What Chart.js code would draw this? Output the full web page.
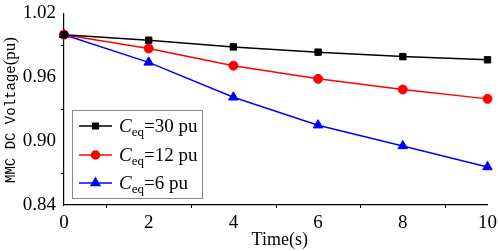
<!DOCTYPE html>
<html>
<head>
<meta charset="utf-8">
<script src="https://cdn.jsdelivr.net/npm/chart.js@4/dist/chart.umd.min.js"></script>
<style>
  html, body { margin: 0; padding: 0; background: #fff; }
  #wrap { width: 498px; height: 251px; }
</style>
</head>
<body>
<div id="wrap"><canvas id="c" width="498" height="251"></canvas></div>
<script>
// data
const times = [0, 2, 4, 6, 8, 10];
const ceq30 = [1.000, 0.9948, 0.9885, 0.9836, 0.9794, 0.9764];
const ceq12 = [1.000, 0.9870, 0.9709, 0.9585, 0.9485, 0.9397];
const ceq6  = [1.000, 0.9740, 0.9412, 0.9150, 0.8955, 0.8757];
const seriesNames = ['30 pu', '12 pu', '6 pu'];
const xMinorTicks = [1, 3, 5, 7, 9];
const yMinorTicks = [0.87, 0.93, 0.99];

const serif = '"Liberation Serif", "Times New Roman", serif';

const toPts = (vals) => vals.map((v, i) => ({ x: times[i], y: v }));

// minor ticks, axis titles and the legend box
const extras = {
  id: 'extras',
  afterDraw(chart) {
    const ctx = chart.ctx;
    const xs = chart.scales.x, ys = chart.scales.y;
    const area = chart.chartArea;
    ctx.save();
    ctx.strokeStyle = '#000';
    ctx.lineWidth = 1;
    xMinorTicks.forEach(v => {
      const px = Math.round(xs.getPixelForValue(v)) + 0.5;
      ctx.beginPath();
      ctx.moveTo(px, area.bottom);
      ctx.lineTo(px, area.bottom + 3);
      ctx.stroke();
    });
    yMinorTicks.forEach(v => {
      const py = Math.round(ys.getPixelForValue(v)) + 0.5;
      ctx.beginPath();
      ctx.moveTo(area.left, py);
      ctx.lineTo(area.left - 3, py);
      ctx.stroke();
    });

    // x title
    ctx.fillStyle = '#000';
    ctx.font = '18px ' + serif;
    ctx.textAlign = 'center';
    ctx.textBaseline = 'alphabetic';
    ctx.fillText('Time(s)', (area.left + area.right) / 2 + 4, 245);

    // y title, two fonts
    ctx.save();
    ctx.translate(15, 110);
    ctx.rotate(-Math.PI / 2);
    const p1 = 'MMC DC Voltage';
    const p2 = '(pu)';
    ctx.font = '14px "Liberation Mono", monospace';
    const w1 = ctx.measureText(p1).width;
    ctx.font = '17px ' + serif;
    const w2 = ctx.measureText(p2).width;
    let x0 = -(w1 + w2) / 2;
    ctx.textAlign = 'left';
    ctx.font = '14px "Liberation Mono", monospace';
    ctx.fillText(p1, x0, 0);
    ctx.font = '17px ' + serif;
    ctx.fillText(p2, x0 + w1, 0);
    ctx.restore();

    // legend
    const bx = 72.5, by = 110.5, bw = 130, bh = 88;
    ctx.fillStyle = '#fff';
    ctx.fillRect(bx, by, bw, bh);
    ctx.strokeStyle = '#888';
    ctx.strokeRect(bx, by, bw, bh);
    const rowsY = [126, 155, 183];
    chart.data.datasets.forEach((ds, i) => {
      const y = rowsY[i];
      ctx.strokeStyle = ds.borderColor;
      ctx.lineWidth = 1.5;
      ctx.beginPath();
      ctx.moveTo(79, y);
      ctx.lineTo(112, y);
      ctx.stroke();
      Chart.helpers.drawPoint(ctx, {
        pointStyle: ds.pointStyle,
        radius: ds.pointRadius - 0.5,
        rotation: 0,
        borderWidth: 1
      }, 95.5, y);
      ctx.fillStyle = ds.backgroundColor;
      ctx.fill();
      ctx.fillStyle = '#000';
      ctx.textAlign = 'left';
      ctx.textBaseline = 'alphabetic';
      let tx = 119;
      ctx.font = 'italic 19px ' + serif;
      ctx.fillText('C', tx, y + 6);
      tx += ctx.measureText('C').width;
      ctx.font = '13px ' + serif;
      ctx.fillText('eq', tx, y + 10);
      tx += ctx.measureText('eq').width;
      ctx.font = '19px ' + serif;
      ctx.fillText('=' + seriesNames[i], tx, y + 6);
    });
    ctx.restore();
  }
};

const mkSet = (vals, color, style, r) => ({
  data: toPts(vals),
  borderColor: color,
  backgroundColor: color,
  borderWidth: 1.5,
  pointStyle: style,
  pointRadius: r,
  pointBorderWidth: 1,
  pointBackgroundColor: color,
  pointBorderColor: color,
  tension: 0,
  clip: false
});

new Chart(document.getElementById('c'), {
  type: 'line',
  data: {
    datasets: [
      mkSet(ceq30, '#000000', 'rect', 4.5),
      mkSet(ceq12, '#ff0000', 'circle', 4.5),
      mkSet(ceq6, '#0000ff', 'triangle', 5.5)
    ]
  },
  options: {
    responsive: false,
    animation: false,
    layout: { padding: { top: 7, right: 10, left: 0, bottom: 0 } },
    plugins: { legend: { display: false }, tooltip: { enabled: false } },
    scales: {
      x: {
        type: 'linear',
        min: 0, max: 10,
        afterFit: (s) => { s.height = 46; },
        ticks: {
          stepSize: 2,
          color: '#000',
          font: { family: serif, size: 19 },
          padding: 1,
          maxRotation: 0
        },
        grid: { display: false, drawTicks: true, tickLength: 6, tickColor: '#000' },
        border: { display: true, color: '#000', width: 1.2 }
      },
      y: {
        type: 'linear',
        min: 0.84, max: 1.02,
        afterFit: (s) => { s.width = 64; },
        ticks: {
          stepSize: 0.06,
          color: '#000',
          font: { family: serif, size: 19 },
          padding: 2,
          callback: (v) => v.toFixed(2)
        },
        grid: { display: false, drawTicks: true, tickLength: 6, tickColor: '#000' },
        border: { display: true, color: '#000', width: 1.2 }
      }
    }
  },
  plugins: [extras]
});
</script>
</body>
</html>
